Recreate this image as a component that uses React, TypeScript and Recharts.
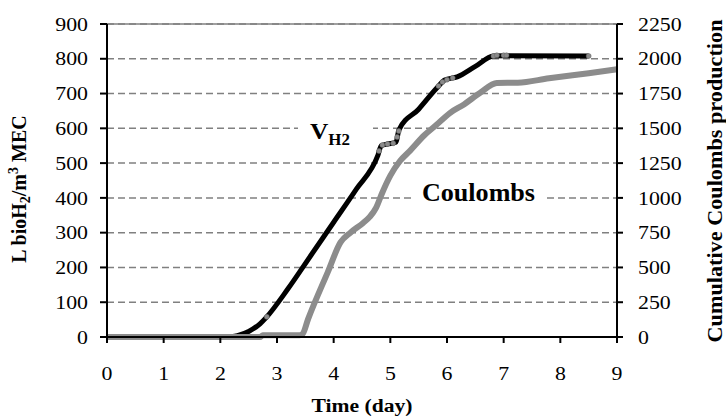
import React from "react";
import { LineChart, Line, XAxis, YAxis, CartesianGrid, ReferenceLine } from "recharts";

const dayTicks = [0, 1, 2, 3, 4, 5, 6, 7, 8, 9];
const leftTicks = [0, 100, 200, 300, 400, 500, 600, 700, 800, 900];
const rightTicks = [0, 250, 500, 750, 1000, 1250, 1500, 1750, 2000, 2250];

// V H2 (left axis)
const vh2Days = [0, 2.1, 2.3, 2.5, 2.7, 2.82, 3.2, 3.6, 4.0, 4.4, 4.78, 4.84, 4.95, 5.1, 5.15, 5.5, 5.82, 5.96, 6.18, 6.5, 6.82, 7.0, 8.5];
const vh2Values = [0, 0, 4, 16, 38, 58, 140, 235, 330, 425, 522, 550, 555, 560, 595, 655, 716, 739, 748, 778, 808, 809, 808];

// gray dots visible on the V H2 line
const markDays = [2.82, 4.8, 4.86, 4.95, 5.05, 5.12, 5.15, 5.85, 5.92, 6.0, 6.1, 6.82, 6.88, 7.0, 7.05, 8.5];
const markValues = [58, 535, 552, 555, 557, 575, 592, 722, 733, 740, 745, 808, 810, 810, 810, 808];

// cumulative coulombs (right axis)
const coulombDays = [0, 2.7, 2.75, 3.4, 3.45, 3.55, 3.9, 4.12, 4.3, 4.52, 4.64, 4.75, 4.85, 5.0, 5.17, 5.35, 5.6, 5.8, 6.05, 6.3, 6.58, 6.88, 7.25, 7.8, 8.5, 9];
const coulombValues = [0, 0, 12, 12, 20, 130, 470, 680, 752, 820, 865, 930, 1030, 1160, 1265, 1340, 1450, 1520, 1610, 1672, 1754, 1826, 1828, 1860, 1896, 1925];

const zip = (xs: number[], ys: number[]) => xs.map((t, i) => ({ t, v: ys[i] }));
const vh2Data = zip(vh2Days, vh2Values);
const markData = zip(markDays, markValues);
const coulombData = zip(coulombDays, coulombValues);

const serif = '"Liberation Serif", "Times New Roman", Times, serif';

const makeTick = (anchor: "start" | "end" | "middle", dx: number, dy: number, em: string) => (props: any) => {
  const { x, y, payload } = props;
  return (
    <text
      transform={`translate(${x + dx},${y + dy}) scale(1.15,1)`}
      textAnchor={anchor}
      dy={em}
      fontSize={19}
      fill="#000"
      style={{ fontFamily: serif }}
    >
      {payload.value}
    </text>
  );
};

const LeftTick = makeTick("end", -12, 0, "0.35em");
const RightTick = makeTick("start", 15, 0, "0.35em");
const BottomTick = makeTick("middle", 0, 37, "0");
const NoTick = () => <g />;

const axisLine = { stroke: "#000", strokeWidth: 2 };

const App = () => {
  return (
    <div style={{ position: "absolute", left: 0, top: 0, width: 726, height: 419, background: "#fff" }}>
      <LineChart width={726} height={419} margin={{ top: 24, right: 49, bottom: 42, left: 47 }}>
        <CartesianGrid yAxisId="left" vertical={false} stroke="#808080" strokeWidth={1.5} strokeDasharray="7 4" />
        <XAxis
          type="number"
          dataKey="t"
          domain={[0, 9]}
          ticks={dayTicks}
          height={40}
          axisLine={axisLine}
          tickLine={axisLine}
          tickSize={6}
          tickMargin={0}
          tick={BottomTick}
          allowDuplicatedCategory={false}
        />
        <YAxis
          yAxisId="left"
          domain={[0, 900]}
          ticks={leftTicks}
          width={60}
          axisLine={axisLine}
          tickLine={axisLine}
          tickSize={7}
          tickMargin={0}
          tick={LeftTick}
        />
        <YAxis
          yAxisId="right"
          orientation="right"
          domain={[0, 2250]}
          ticks={rightTicks}
          width={60}
          axisLine={axisLine}
          tickLine={axisLine}
          tickSize={6}
          tickMargin={0}
          tick={RightTick}
        />
        <YAxis
          yAxisId="rightInner"
          orientation="right"
          mirror
          domain={[0, 2250]}
          ticks={rightTicks}
          width={0}
          axisLine={false}
          tickLine={axisLine}
          tickSize={5}
          tick={NoTick}
        />
        <ReferenceLine yAxisId="left" y={900} stroke="#808080" strokeWidth={1.5} />
        <Line
          yAxisId="left"
          data={vh2Data}
          dataKey="v"
          type="monotone"
          stroke="#000"
          strokeWidth={5}
          dot={false}
          isAnimationActive={false}
        />
        <Line
          yAxisId="left"
          data={markData}
          dataKey="v"
          stroke="none"
          dot={{ r: 2.5, fill: "#8a8a8a", stroke: "#666", strokeWidth: 0.5 }}
          isAnimationActive={false}
        />
        <Line
          yAxisId="right"
          data={coulombData}
          dataKey="v"
          type="monotone"
          stroke="#8c8c8c"
          strokeWidth={6}
          dot={false}
          isAnimationActive={false}
        />
      </LineChart>
      <svg
        width={726}
        height={419}
        style={{ position: "absolute", left: 0, top: 0, pointerEvents: "none", fontFamily: serif }}
        fontWeight="bold"
      >
        <rect x={298} y={117} width={75} height={34} fill="#fff" />
        <text x={310} y={139} fontSize={24} textLength={40} lengthAdjust="spacingAndGlyphs">
          V<tspan dy={6} fontSize={16}>H2</tspan>
        </text>
        <rect x={413} y={179} width={132} height={30} fill="#fff" />
        <text x={422} y={201} fontSize={26} textLength={113} lengthAdjust="spacingAndGlyphs">
          Coulombs
        </text>
        <text x={362} y={412} fontSize={18} textAnchor="middle" textLength={101} lengthAdjust="spacingAndGlyphs">
          Time (day)
        </text>
        <text transform="translate(26,189) rotate(-90)" fontSize={20} textAnchor="middle">
          L bioH<tspan dy={4} fontSize={14}>2</tspan>
          <tspan dy={-4}>/m</tspan>
          <tspan dy={-8} fontSize={14}>3</tspan>
          <tspan dy={8}> MEC</tspan>
        </text>
        <text
          transform="translate(722,181) rotate(-90)"
          fontSize={20}
          textAnchor="middle"
          textLength={323}
          lengthAdjust="spacingAndGlyphs"
        >
          Cumulative Coulombs production
        </text>
      </svg>
    </div>
  );
};

export default App;
